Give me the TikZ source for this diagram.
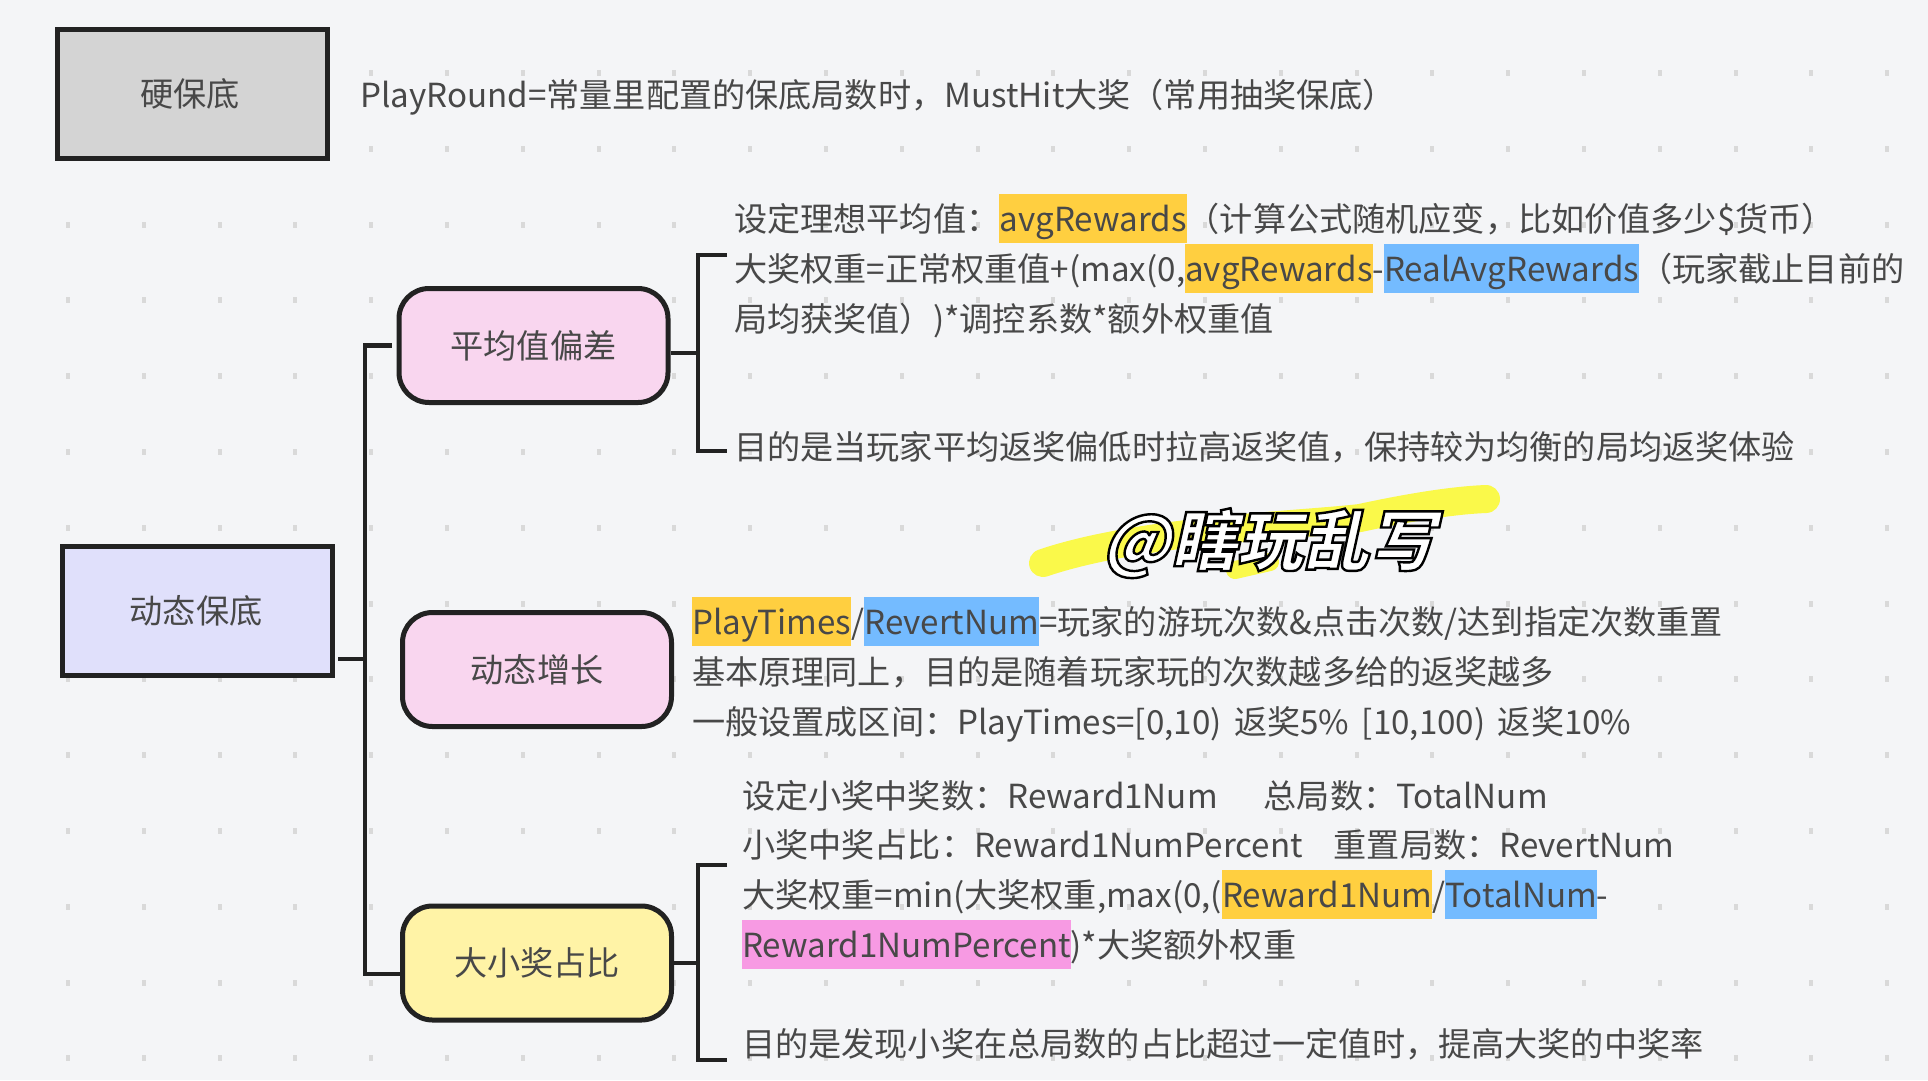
\documentclass[tikz,border=0pt]{standalone}
\usepackage{fontspec}
\setmainfont{Noto Sans CJK SC}
\newfontfamily\wmf[FakeSlant=0.22]{Noto Sans CJK SC Black}
\definecolor{bgc}{HTML}{F4F5F7}
\definecolor{dotc}{HTML}{D9D9D9}
\definecolor{ink}{HTML}{222222}
\definecolor{txt}{HTML}{484848}
\definecolor{gbox}{HTML}{D4D4D4}
\definecolor{lbox}{HTML}{E0E0FB}
\definecolor{pbox}{HTML}{F9D6EF}
\definecolor{ybox}{HTML}{FFF3A6}
\definecolor{horange}{HTML}{FFCF40}
\definecolor{hblue}{HTML}{74BBFF}
\definecolor{hpink}{HTML}{F79AE3}
\definecolor{brush}{HTML}{FAF94A}
\setlength{\fboxsep}{0pt}
\newcommand{\hlt}[2]{\colorbox{#1}{\rule[-12pt]{0pt}{49pt}#2}}
\tikzset{
  sqbox/.style={draw=ink,line width=5pt,rectangle,minimum width=270pt,minimum height=129pt,inner sep=0pt,text=txt,font=\fontsize{33.2}{40}\selectfont},
  rbox/.style={draw=ink,line width=5pt,rectangle,rounded corners=30pt,minimum width=269pt,minimum height=114pt,inner sep=0pt,text=txt,font=\fontsize{33.2}{40}\selectfont},
  conn/.style={draw=ink,line width=4.5pt,line cap=butt,line join=miter},
  line/.style={anchor=base west,inner sep=0pt,text=txt,font=\fontsize{33.15}{40}\selectfont},
  griddot/.style={fill=dotc,draw=none},
  brushstroke/.style={draw=brush,line width=28pt,line cap=round}
}
\begin{document}
\begin{tikzpicture}[x=1pt,y=-1pt]
\useasboundingbox (0,0) rectangle (1928,1080);
\fill[bgc] (0,0) rectangle (1928,1080);
% dot grid
\foreach \r in {0,...,13}{
  \foreach \c in {0,...,24}{
    \pgfmathsetmacro{\px}{68+75.8*\c}
    \pgfmathsetmacro{\py}{73+75.8*\r}
    \ifnum\r<2
      \ifnum\c>3
        \fill[griddot] (\px-2,\py-3) rectangle (\px+2,\py+3);
      \fi
    \else
      \fill[griddot] (\px-2,\py-3) rectangle (\px+2,\py+3);
    \fi
  }
}
% boxes
\node[sqbox,fill=gbox] (hard) at (192.5,94) {\kern-5pt\raisebox{1pt}{硬保底}};
\node[sqbox,fill=lbox] (dyn) at (197.5,610.5) {\kern-3pt\raisebox{1pt}{动态保底}};
\node[rbox,fill=pbox] (avg) at (533.5,345.5) {平均值偏差};
\node[rbox,fill=pbox] (grow) at (537,669.5) {动态增长};
\node[rbox,fill=ybox] (ratio) at (537,963) {大小奖占比};
% connectors
\coordinate (tt) at (365,345.5);
\coordinate (tb) at (365,974);
\coordinate (tm) at (365,659);
\draw[conn,shorten <=5pt] (avg.west) -- (tt) -- (tb) -- (ratio.west |- tb);
\draw[conn,shorten <=3pt] (dyn.east |- tm) -- (tm);
\coordinate (a1) at (698,255);
\coordinate (a2) at (698,451);
\coordinate (a3) at (727,255);
\coordinate (a4) at (727,451);
\coordinate (am) at (698,353);
\draw[conn] (a3) -- (a1) -- (a2) -- (a4);
\draw[conn] (avg.east |- am) -- (am);
\coordinate (b1) at (698,865);
\coordinate (b2) at (698,1060);
\coordinate (b3) at (727,865);
\coordinate (b4) at (727,1060);
\draw[conn] (b3) -- (b1) -- (b2) -- (b4);
\draw[conn] (ratio.east) -- (ratio.east -| b1);
% text lines
\node[line] (t0) at (360,107) {PlayRound=常量里配置的保底局数时，MustHit大奖（常用抽奖保底）};
\node[line] (t1) at (734,231) {设定理想平均值：\hlt{horange}{avgRewards}（计算公式随机应变，比如价值多少\$货币）};
\node[line] (t2) at (734,281) {大奖权重=正常权重值+(max(0,\hlt{horange}{avgRewards}-\hlt{hblue}{RealAvgRewards}（玩家截止目前的};
\node[line] (t3) at (734,331) {局均获奖值）)*调控系数*额外权重值};
\node[line] (t4) at (734,459) {目的是当玩家平均返奖偏低时拉高返奖值，保持较为均衡的局均返奖体验};
\node[line] (t5) at (692,634) {\hlt{horange}{PlayTimes}/\hlt{hblue}{RevertNum}=玩家的游玩次数\&点击次数/达到指定次数重置};
\node[line] (t6) at (692,684) {基本原理同上，目的是随着玩家玩的次数越多给的返奖越多};
\node[line] (t7) at (692,734) {一般设置成区间：PlayTimes=[0,10)\hspace{5pt} 返奖5\%\hspace{5pt} [10,100)\hspace{5pt} 返奖10\%};
\node[line] (t8) at (742,808) {设定小奖中奖数：Reward1Num\hspace{46pt}总局数：TotalNum};
\node[line] (t9) at (742,857) {小奖中奖占比：Reward1NumPercent\hspace{31pt}重置局数：RevertNum};
\node[line] (t10) at (742,907) {大奖权重=min(大奖权重,max(0,(\hlt{horange}{Reward1Num}/\hlt{hblue}{TotalNum}-};
\node[line] (t11) at (742,957) {\hlt{hpink}{Reward1NumPercent})*大奖额外权重};
\node[line] (t12) at (742,1056) {目的是发现小奖在总局数的占比超过一定值时，提高大奖的中奖率};
% watermark
\draw[brushstroke] (1043,563) .. controls (1140,530) and (1300,525) .. (1360,518) .. controls (1420,505) and (1460,500) .. (1486,499);
\draw[brushstroke,line width=18pt] (1235,570) -- (1270,562);
\node[inner sep=0pt,anchor=base west] (wm) at (1102,565) {\wmf\fontsize{66}{80}\selectfont\special{pdf:code 2 Tr 2.4 w 0 G 1 g}@瞎玩乱写\special{pdf:code 0 Tr 0 g 0 G}};
\end{tikzpicture}
\end{document}
